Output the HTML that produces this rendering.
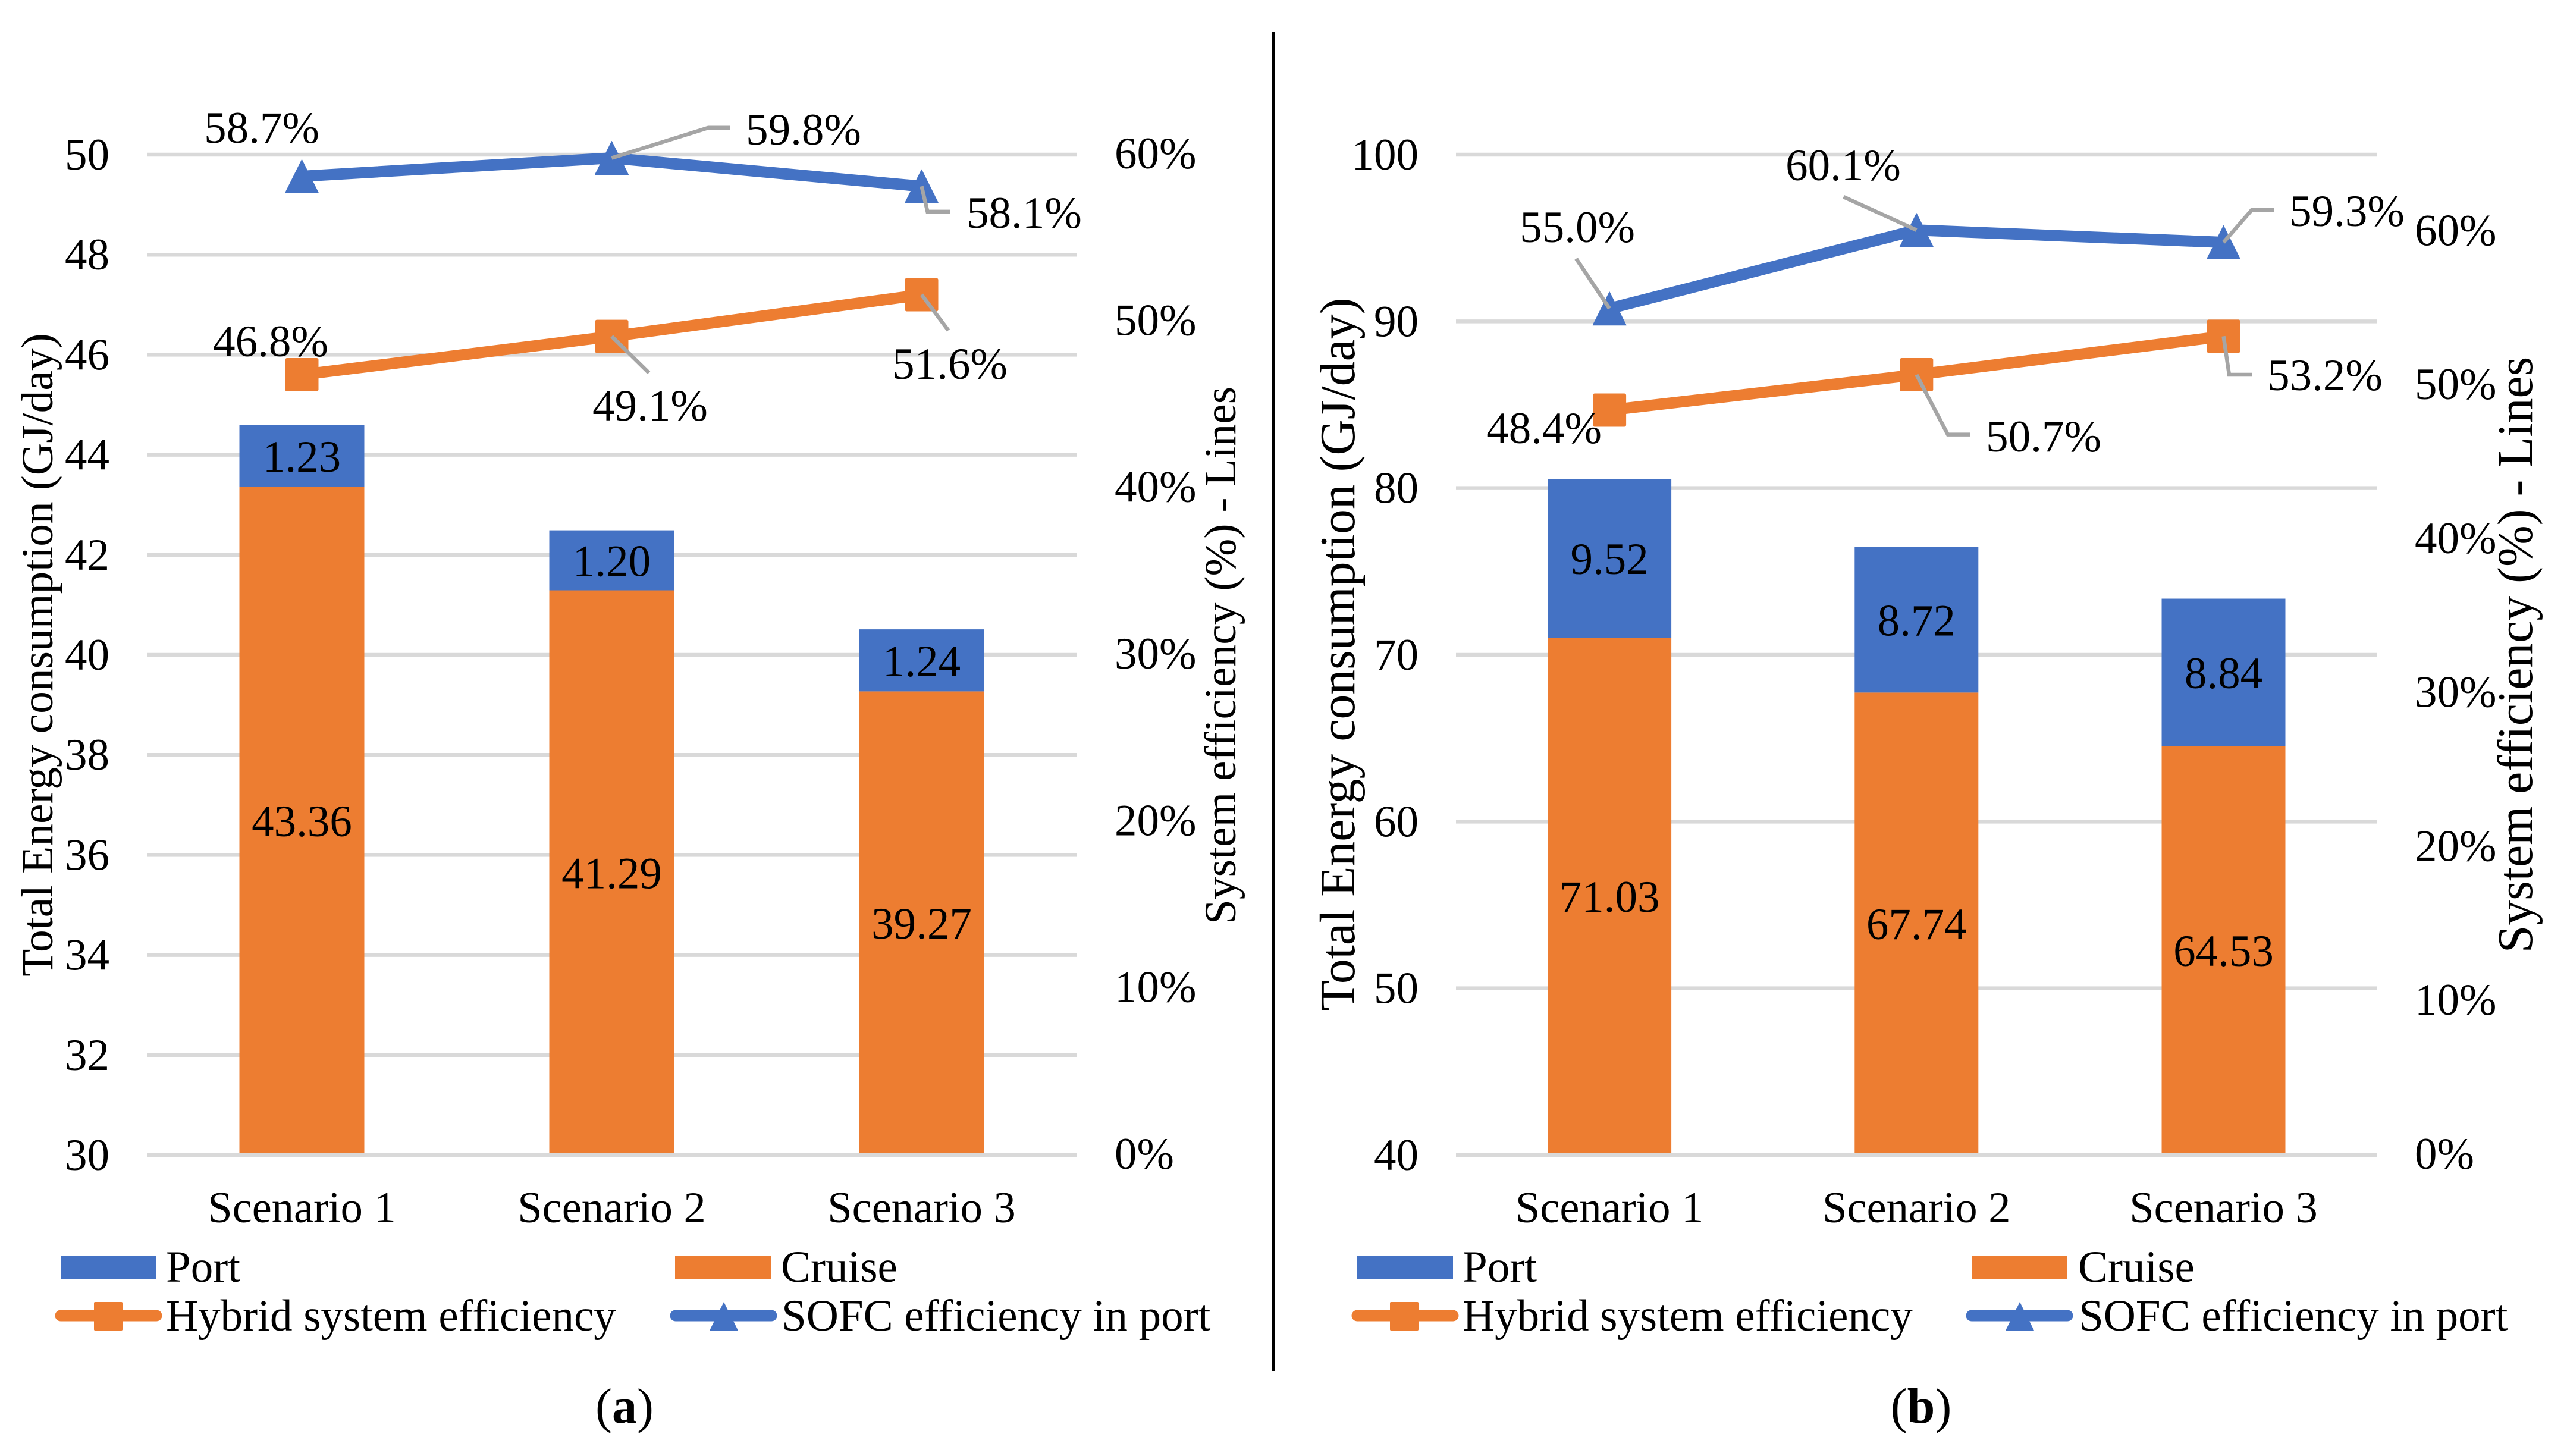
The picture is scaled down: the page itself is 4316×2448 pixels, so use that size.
<!DOCTYPE html>
<html lang="en">
<head>
<meta charset="utf-8">
<title>Total energy consumption and system efficiency by scenario</title>
<style>
html,body{margin:0;padding:0;background:#fff;}
svg{display:block;}
text{font-family:"Liberation Serif",serif;font-size:75px;fill:#000;}
</style>
</head>
<body>
<svg id="figure" xmlns="http://www.w3.org/2000/svg" width="4316" height="2448" viewBox="0 0 4316 2448">
  <rect x="0" y="0" width="4316" height="2448" fill="#ffffff"/>
  <g id="chart-a"></g>
  <g id="chart-b"></g>
  <rect x="2139" y="53" width="4" height="2252" fill="#000000"/>

  <text transform="translate(88,1101) rotate(-90)" text-anchor="middle" style="font-size:75.5px">Total Energy consumption (GJ/day)</text>
  <text transform="translate(2077,1102) rotate(-90)" text-anchor="middle" style="font-size:75.5px">System efficiency (%) - Lines</text>
  <text transform="translate(2277,1100) rotate(-90)" text-anchor="middle" style="font-size:83.7px">Total Energy consumption (GJ/day)</text>
  <text transform="translate(4257,1101) rotate(-90)" text-anchor="middle" style="font-size:83.7px">System efficiency (%) - Lines</text>

  <g>
    <rect x="102" y="2112" width="160" height="39" fill="#4472C4"/>
    <text x="279" y="2155">Port</text>
    <rect x="1135" y="2112" width="161" height="39" fill="#ED7D31"/>
    <text x="1313" y="2155">Cruise</text>
    <line x1="102" y1="2212" x2="263" y2="2212" stroke="#ED7D31" stroke-width="19" stroke-linecap="round"/>
    <rect x="158" y="2189" width="48" height="48" rx="2" fill="#ED7D31"/>
    <text x="279" y="2237">Hybrid system efficiency</text>
    <line x1="1136" y1="2212" x2="1297" y2="2212" stroke="#4472C4" stroke-width="19" stroke-linecap="round"/>
    <polygon points="1217,2189 1241,2237 1193,2237" fill="#4472C4"/>
    <text x="1314" y="2237">SOFC efficiency in port</text>
  </g>
  <g>
    <rect x="2282" y="2112" width="161" height="39" fill="#4472C4"/>
    <text x="2459" y="2155">Port</text>
    <rect x="3315" y="2112" width="161" height="39" fill="#ED7D31"/>
    <text x="3494" y="2155">Cruise</text>
    <line x1="2282" y1="2212" x2="2443" y2="2212" stroke="#ED7D31" stroke-width="19" stroke-linecap="round"/>
    <rect x="2337" y="2189" width="48" height="48" rx="2" fill="#ED7D31"/>
    <text x="2459" y="2237">Hybrid system efficiency</text>
    <line x1="3315" y1="2212" x2="3476" y2="2212" stroke="#4472C4" stroke-width="19" stroke-linecap="round"/>
    <polygon points="3396,2189 3420,2237 3372,2237" fill="#4472C4"/>
    <text x="3495" y="2237">SOFC efficiency in port</text>
  </g>

  <text x="1050" y="2392" text-anchor="middle" style="font-size:84px">(<tspan font-weight="bold">a</tspan>)</text>
  <text x="3230" y="2392" text-anchor="middle" style="font-size:84px">(<tspan font-weight="bold">b</tspan>)</text>
</svg>

<script>
const categories = ['Scenario 1', 'Scenario 2', 'Scenario 3'];

const cruiseA = [43.36, 41.29, 39.27];
const portA = [1.23, 1.20, 1.24];
const hybridA = [46.8, 49.1, 51.6];
const sofcA = [58.7, 59.8, 58.1];
const leftTicksA = [30, 32, 34, 36, 38, 40, 42, 44, 46, 48, 50];
const rightTicksA = [0, 10, 20, 30, 40, 50, 60];

const cruiseB = [71.03, 67.74, 64.53];
const portB = [9.52, 8.72, 8.84];
const hybridB = [48.4, 50.7, 53.2];
const sofcB = [55.0, 60.1, 59.3];
const leftTicksB = [40, 50, 60, 70, 80, 90, 100];
const rightTicksB = [0, 10, 20, 30, 40, 50, 60];

const SVG_NS = 'http://www.w3.org/2000/svg';
const BLUE = '#4472C4';
const ORANGE = '#ED7D31';
const GREY = '#D9D9D9';
const LEADER = '#A5A5A5';

function make(parent, tag, attrs, content) {
  const node = document.createElementNS(SVG_NS, tag);
  for (const key in attrs) node.setAttribute(key, attrs[key]);
  if (content !== undefined) node.textContent = content;
  parent.appendChild(node);
  return node;
}

function drawPanel(root, cfg) {
  const plot = cfg.plot;
  const leftMin = cfg.leftTicks[0];
  const leftMax = cfg.leftTicks[cfg.leftTicks.length - 1];
  const yLeft = v => plot.bottom - (v - leftMin) / (leftMax - leftMin) * (plot.bottom - plot.top);
  const yRight = v => plot.bottom - v / cfg.rightMax * (plot.bottom - plot.top);
  const band = (plot.right - plot.left) / cfg.categories.length;
  const xCat = i => plot.left + band * (i + 0.5);
  const BASE = 25;

  cfg.leftTicks.forEach(t => {
    if (t !== leftMin) {
      const grid = make(root, 'line', {x1: plot.left, x2: plot.right, y1: yLeft(t), y2: yLeft(t), stroke: GREY, 'stroke-width': 6.5});
      
      
    }
    const label = make(root, 'text', {x: cfg.leftLabelX, y: yLeft(t) + BASE, 'text-anchor': 'end'}, String(t));
    
    
  });

  cfg.rightTicks.forEach(t => {
    const label = make(root, 'text', {x: cfg.rightLabelX, y: yRight(t) + BASE - 2}, t + '%');
    
    
  });

  cfg.categories.forEach((c, i) => {
    const x = xCat(i) - cfg.barWidth / 2;
    const yCruise = yLeft(cfg.cruise[i]);
    const yTop = yLeft(cfg.cruise[i] + cfg.port[i]);
    const yBase = yLeft(leftMin);

    const cruiseBar = make(root, 'rect', {x: x, y: yCruise, width: cfg.barWidth, height: yBase - yCruise, fill: ORANGE});
    
    

    const portBar = make(root, 'rect', {x: x, y: yTop, width: cfg.barWidth, height: yCruise - yTop, fill: BLUE});
    
    

    const cruiseText = make(root, 'text', {x: xCat(i), y: (yCruise + yBase) / 2 + BASE + cfg.cruiseLabelShift, 'text-anchor': 'middle'}, cfg.cruise[i].toFixed(2));
    
    

    const portText = make(root, 'text', {x: xCat(i), y: (yTop + yCruise) / 2 + BASE + cfg.portLabelShift, 'text-anchor': 'middle'}, cfg.port[i].toFixed(2));
    
    

    const catText = make(root, 'text', {x: xCat(i), y: 2055, 'text-anchor': 'middle', style: 'font-size:74.5px'}, c);
    
    
  });

  const baseline = make(root, 'line', {x1: plot.left, x2: plot.right, y1: plot.bottom, y2: plot.bottom, stroke: GREY, 'stroke-width': 8});
  
  

  const hybridPoints = cfg.hybrid.map((v, i) => xCat(i) + ',' + yRight(v)).join(' ');
  const hybridLine = make(root, 'polyline', {points: hybridPoints, fill: 'none', stroke: ORANGE, 'stroke-width': 19, 'stroke-linejoin': 'round'});
  
  

  const sofcPoints = cfg.sofc.map((v, i) => xCat(i) + ',' + yRight(v)).join(' ');
  const sofcLine = make(root, 'polyline', {points: sofcPoints, fill: 'none', stroke: BLUE, 'stroke-width': 19, 'stroke-linejoin': 'round'});
  
  

  const M = 28;
  cfg.hybrid.forEach((v, i) => {
    const square = make(root, 'rect', {x: xCat(i) - M, y: yRight(v) - M, width: 2 * M, height: 2 * M, rx: 3, fill: ORANGE});
    
    
  });
  cfg.sofc.forEach((v, i) => {
    const cx = xCat(i), cy = yRight(v);
    const triangle = make(root, 'polygon', {points: (cx) + ',' + (cy - M) + ' ' + (cx + M) + ',' + (cy + M) + ' ' + (cx - M) + ',' + (cy + M), fill: BLUE, stroke: BLUE, 'stroke-width': 1, 'stroke-linejoin': 'round'});
    
    
  });

  function drawCallouts(values, layouts, suffix) {
    values.forEach((v, i) => {
      const px = xCat(i), py = yRight(v);
      const spec = layouts[i];
      if (spec.leader) {
        const pts = [[px, py]].concat(spec.leader.map(o => [px + o[0], py + o[1]]));
        const leader = make(root, 'polyline', {points: pts.map(p => p.join(',')).join(' '), fill: 'none', stroke: LEADER, 'stroke-width': 6.5});
        
        
      }
      const label = make(root, 'text', {x: px + spec.label[0], y: py + spec.label[1] + BASE, 'text-anchor': 'middle'}, v.toFixed(1) + '%');
      
      
    });
  }
  drawCallouts(cfg.hybrid, cfg.hybridCallouts, 'hybrid');
  drawCallouts(cfg.sofc, cfg.sofcCallouts, 'sofc');
}

drawPanel(document.getElementById('chart-a'), {
  plot: {left: 247, right: 1810, top: 260, bottom: 1942},
  categories: categories,
  cruise: cruiseA, port: portA, hybrid: hybridA, sofc: sofcA,
  leftTicks: leftTicksA, rightTicks: rightTicksA, rightMax: 60,
  barWidth: 210, leftLabelX: 184, rightLabelX: 1874,
  cruiseLabelShift: 1, portLabelShift: 1.5,
  hybridCallouts: [
    {label: [-52.5, -56]},
    {label: [64.5, 116.3], leader: [[62.5, 61.3]]},
    {label: [47.5, 116.4], leader: [[45, 60]]}
  ],
  sofcCallouts: [
    {label: [-67.5, -81.6]},
    {label: [322.5, -47.8], leader: [[162.5, -50.8], [199.5, -50.8]]},
    {label: [172.5, 44.6], leader: [[10, 42.6], [48.5, 42.6]]}
  ]
});

drawPanel(document.getElementById('chart-b'), {
  plot: {left: 2448, right: 3996.6, top: 260, bottom: 1942},
  categories: categories,
  cruise: cruiseB, port: portB, hybrid: hybridB, sofc: sofcB,
  leftTicks: leftTicksB, rightTicks: rightTicksB, rightMax: 65,
  barWidth: 208, leftLabelX: 2385, rightLabelX: 4060,
  cruiseLabelShift: 1, portLabelShift: 1.5,
  hybridCallouts: [
    {label: [-110, 30.4]},
    {label: [213.7, 104], leader: [[52.7, 100.6], [89.7, 100.6]]},
    {label: [170.5, 65.7], leader: [[9.5, 64.7], [48.5, 64.7]]}
  ],
  sofcCallouts: [
    {label: [-54, -136.8], leader: [[-56, -83.8]]},
    {label: [-123.3, -108.8], leader: [[-122.7, -55.8]]},
    {label: [207.5, -52.5], leader: [[47.5, -54.5], [84.5, -54.5]]}
  ]
});
</script>
</body>
</html>
